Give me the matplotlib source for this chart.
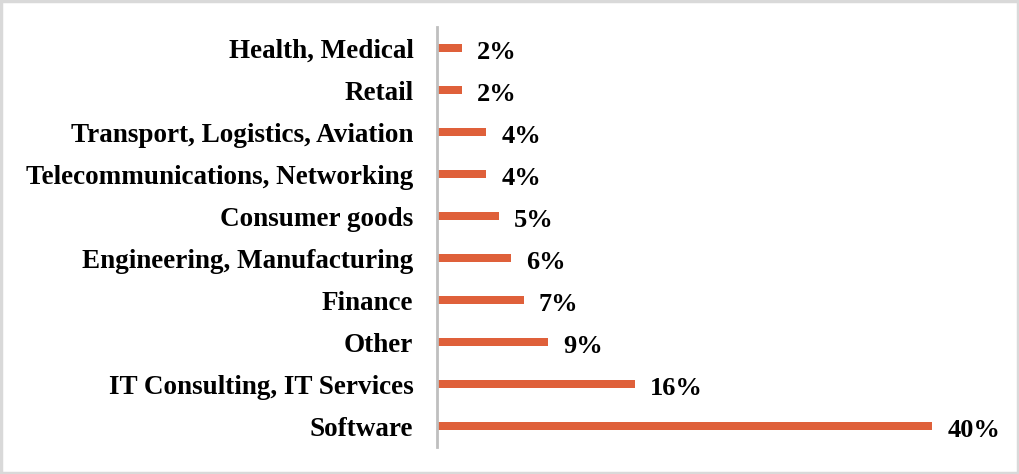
import matplotlib
matplotlib.use("Agg")
import matplotlib.pyplot as plt
from matplotlib.patches import Rectangle

# sectors, bottom to top
sectors = ["Software", "IT Consulting, IT Services", "Other", "Finance",
           "Engineering, Manufacturing", "Consumer goods",
           "Telecommunications, Networking", "Transport, Logistics, Aviation",
           "Retail", "Health, Medical"]
shares = [40, 16, 9, 7, 6, 5, 4, 4, 2, 2]

plt.rcParams['font.family'] = ['Liberation Serif', 'DejaVu Serif']

fig = plt.figure(figsize=(10.2, 4.74), dpi=100)
ax = fig.add_axes([437 / 1020, 27 / 474, 563 / 1020, 420 / 474])

pos = range(len(sectors))
ax.barh(pos, shares, height=0.18, color='#DF603A')

for p, v in zip(pos, shares):
    ax.annotate(f"{v}%", (v, p), xytext=(11, -3), textcoords='offset points',
                va='center', ha='left', fontsize=19, fontweight='bold')

ax.set_yticks(list(pos))
ax.set_yticklabels(sectors, fontsize=19.5, fontweight='bold')
ax.tick_params(axis='y', length=0, pad=17)
ax.set_xticks([])
ax.set_xlim(0, 45.5)
ax.set_ylim(-0.5, 9.5)
for s in ['top', 'right', 'bottom']:
    ax.spines[s].set_visible(False)
ax.spines['left'].set_color('#bfbfbf')
ax.spines['left'].set_linewidth(2)

# light frame around the whole picture
fig.patches.append(Rectangle((0.001, 0.002), 0.997, 0.995, transform=fig.transFigure,
                             fill=False, edgecolor='#d9d9d9', linewidth=2.5))

fig.savefig("out.png", dpi=100)
